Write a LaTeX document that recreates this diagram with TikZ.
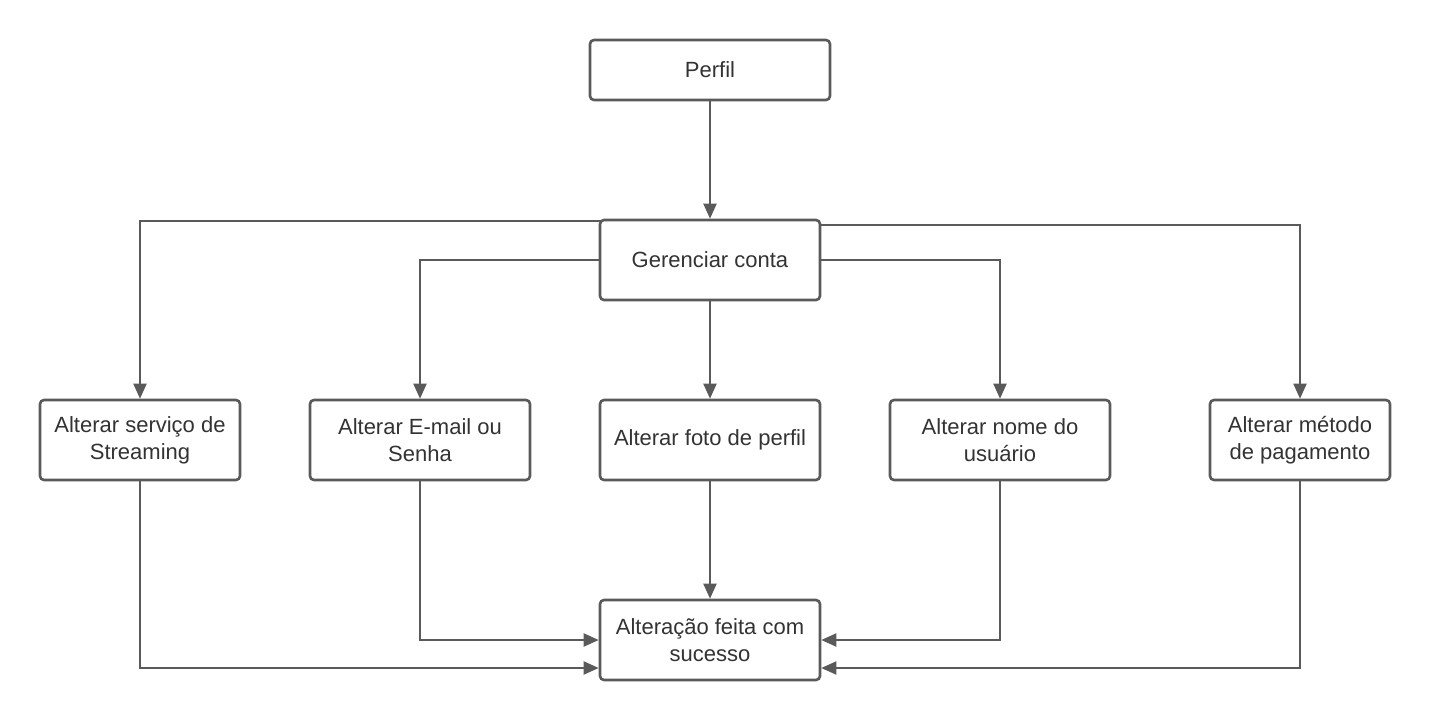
\documentclass[tikz,border=0pt]{standalone}
\usepackage{fontspec}
\setmainfont{Liberation Sans}
\usetikzlibrary{arrows.meta}
\definecolor{ln}{HTML}{5A5A5A}
\definecolor{tx}{HTML}{333333}
\tikzset{
  box/.style={draw=ln, line width=2.6pt, rounded corners=4pt, fill=white, inner sep=0pt,
    text=tx, font=\fontsize{22}{27}\selectfont, align=center},
  conn/.style={draw=ln, line width=2pt, -{Triangle[length=15pt,width=13pt]}},
}
\begin{document}
\begin{tikzpicture}[x=1pt,y=-1pt]
\useasboundingbox (0,0) rectangle (1430,720);
\node[box, minimum width=240pt, minimum height=60pt] (perfil) at (710,70) {Perfil};
\node[box, minimum width=220pt, minimum height=80pt] (ger) at (710,260) {Gerenciar conta};
\node[box, minimum width=200pt, minimum height=80pt] (b1) at (140,440) {Alterar serviço de\\Streaming};
\node[box, minimum width=220pt, minimum height=80pt] (b2) at (420,440) {Alterar E-mail ou\\Senha};
\node[box, minimum width=220pt, minimum height=80pt] (b3) at (710,440) {Alterar foto de perfil};
\node[box, minimum width=220pt, minimum height=80pt] (b4) at (1000,440) {Alterar nome do\\usuário};
\node[box, minimum width=180pt, minimum height=80pt] (b5) at (1300,440) {Alterar método\\de pagamento};
\node[box, minimum width=220pt, minimum height=80pt] (fim) at (710,640) {Alteração feita com\\sucesso};
\coordinate (gl1) at (600,221);
\coordinate (gr1) at (820,225);
\draw[conn] (perfil.south) -- (ger.north);
\draw[conn] (gl1) -| (b1.north);
\draw[conn] (ger.west) -| (b2.north);
\draw[conn] (ger.south) -- (b3.north);
\draw[conn] (ger.east) -| (b4.north);
\draw[conn] (gr1) -| (b5.north);
\draw[conn] (b1.south) |- ([yshift=-28pt]fim.west);
\draw[conn] (b2.south) |- (fim.west);
\draw[conn] (b3.south) -- (fim.north);
\draw[conn] (b4.south) |- (fim.east);
\draw[conn] (b5.south) |- ([yshift=-28pt]fim.east);
\end{tikzpicture}
\end{document}
